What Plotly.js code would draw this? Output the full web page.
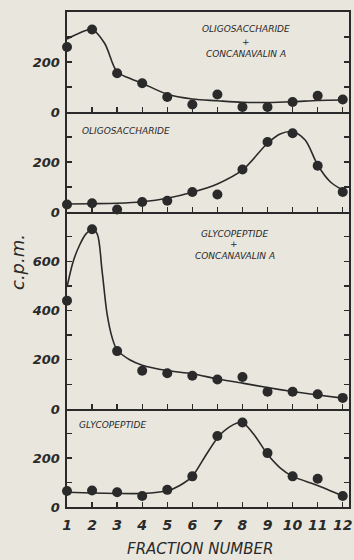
<!DOCTYPE html>
<html>
<head>
<meta charset="utf-8">
<script src="https://cdn.plot.ly/plotly-3.0.1.min.js"></script>
<style>
html,body{margin:0;padding:0;background:#e9e6dd;}
#chart{width:354px;height:560px;}
</style>
</head>
<body>
<div id="chart"></div>
<script>
// ---- data ----
const fractions = [1,2,3,4,5,6,7,8,9,10,11,12];
const xTickLabels = ['1','2','3','4','5','6','7','8','9','10','11','12'];

// measured points (c.p.m.)
const oligoConA = [260,330,155,115,60,30,70,20,20,40,65,50];
const oligo     = [30,35,10,40,45,80,70,170,280,315,185,80];
const glycoConA = [440,730,235,155,145,135,120,130,70,70,60,45];
const glyco     = [65,67,60,45,70,125,290,345,220,125,115,45];

// hand-drawn fitted curves
const oligoConACurveX = [1,1.5,2,2.5,3,3.5,4,5,6,7,8,9,10,11,12];
const oligoConACurveY = [292,316,330,275,160,135,115,71,52,45,39,38,41,46,48];
const oligoCurveX = [1,2,3,4,5,6,7,8,9,9.5,10,10.5,11,11.5,12];
const oligoCurveY = [32,33,35,41,55,79,112,168,275,312,321,288,188,121,88];
const glycoConACurveX = [1,1.25,1.5,1.75,2,2.2,2.4,2.6,2.8,3,3.5,4,5,6,7,8,9,10,11,12];
const glycoConACurveY = [495,600,665,710,730,712,560,385,290,240,200,178,156,143,122,105,87,71,57,44];
const glycoCurveX = [1,2,3,4,5,5.5,6,6.5,7,7.5,8,8.5,9,9.5,10,11,12];
const glycoCurveY = [60,57,55,55,66,88,125,205,282,328,345,290,215,160,125,88,45];

const panelLabels = {
  p1: ['OLIGOSACCHARIDE','+','CONCANAVALIN A'],
  p2: ['OLIGOSACCHARIDE'],
  p3: ['GLYCOPEPTIDE','+','CONCANAVALIN A'],
  p4: ['GLYCOPEPTIDE']
};
const yTitle = 'c.p.m.';
const xTitle = 'FRACTION NUMBER';

// ---- styling ----
const ink = '#2a2a2a';
const bg = '#e9e6dd';
const FONT = 'DejaVu Sans, sans-serif';

function curve(x, y, ax, sm) {
  return {x: x, y: y, xaxis: ax[0], yaxis: ax[1], mode: 'lines', type: 'scatter',
    line: {color: ink, width: 1.6, shape: 'spline', smoothing: sm || 0.9},
    hoverinfo: 'skip', showlegend: false, cliponaxis: false};
}
function dots(y, ax) {
  return {x: fractions, y: y, xaxis: ax[0], yaxis: ax[1], mode: 'markers', type: 'scatter',
    marker: {color: ink, size: 10}, showlegend: false, cliponaxis: false};
}

const data = [
  curve(oligoConACurveX, oligoConACurveY, ['x4','y4']), dots(oligoConA, ['x4','y4']),
  curve(oligoCurveX, oligoCurveY, ['x3','y3']), dots(oligo, ['x3','y3']),
  curve(glycoConACurveX, glycoConACurveY, ['x2','y2'], 0.9), dots(glycoConA, ['x2','y2']),
  curve(glycoCurveX, glycoCurveY, ['x','y'], 0.7), dots(glyco, ['x','y'])
];

const xRange = [1, 12.25];
function xax(anchor, showLabels, mirror) {
  return {anchor: anchor, range: xRange, showgrid: false, zeroline: false,
    showline: true, linecolor: ink, linewidth: 1.6, mirror: mirror,
    ticks: 'inside', ticklen: 5, tickwidth: 1.4, tickcolor: ink,
    tickvals: fractions, ticktext: xTickLabels, showticklabels: showLabels,
    ticklabelstandoff: 5,
    tickfont: {family: FONT, size: 14, color: ink, style: 'italic', weight: 'bold'}};
}
function yax(anchor, domain, max, step) {
  const vals = [], txt = [];
  for (let v = 0; v < max; v += 100) { vals.push(v); txt.push(v % step === 0 ? String(v) : ''); }
  return {anchor: anchor, domain: domain, range: [0, max], showgrid: false, zeroline: false,
    showline: true, linecolor: ink, linewidth: 1.6, mirror: 'ticks',
    ticks: 'inside', ticklen: 5, tickwidth: 1.4, tickcolor: ink,
    tickvals: vals, ticktext: txt, ticklabelstandoff: 3,
    tickfont: {family: FONT, size: 13, color: ink, style: 'italic', weight: 'bold'}};
}

const L = 67, R = 349, T = 12, B = 507, W = 282, H = 495;
function px(x){ return (x - L) / W; }
function py(y){ return (B - y) / H; }
function lab(text, x, y, anchor, size) {
  return {text: text, x: px(x), y: py(y), xref: 'paper', yref: 'paper',
    xanchor: anchor || 'center', yanchor: 'middle', showarrow: false,
    font: {family: FONT, size: size || 9, color: ink, style: 'italic'}};
}

const annotations = [
  lab(panelLabels.p1[0], 246, 29), lab(panelLabels.p1[1], 246, 42), lab(panelLabels.p1[2], 246, 54),
  lab(panelLabels.p2[0], 80, 131, 'left'),
  lab(panelLabels.p3[0], 234, 234), lab(panelLabels.p3[1], 234, 244), lab(panelLabels.p3[2], 235, 256),
  lab(panelLabels.p4[0], 77, 425, 'left'),
  Object.assign(lab(yTitle, 17, 262, 'center', 18), {textangle: -90}),
  lab(xTitle, 200, 549, 'center', 15)
];

const layout = {
  width: 354, height: 560,
  margin: {l: L, r: 354 - R, t: T, b: 560 - B, pad: 0},
  paper_bgcolor: bg, plot_bgcolor: bg,
  showlegend: false,
  xaxis: xax('y', true, false),
  xaxis2: Object.assign(xax('y2', false, false), {matches: 'x'}),
  xaxis3: Object.assign(xax('y3', false, false), {matches: 'x'}),
  xaxis4: Object.assign(xax('y4', false, true), {matches: 'x'}),
  yaxis: yax('x', [0, 0.198], 400, 200),
  yaxis2: yax('x2', [0.198, 0.596], 800, 200),
  yaxis3: yax('x3', [0.596, 0.798], 400, 200),
  yaxis4: yax('x4', [0.798, 1], 400, 200),
  annotations: annotations
};

Plotly.newPlot('chart', data, layout, {displayModeBar: false, staticPlot: true});
</script>
</body>
</html>
